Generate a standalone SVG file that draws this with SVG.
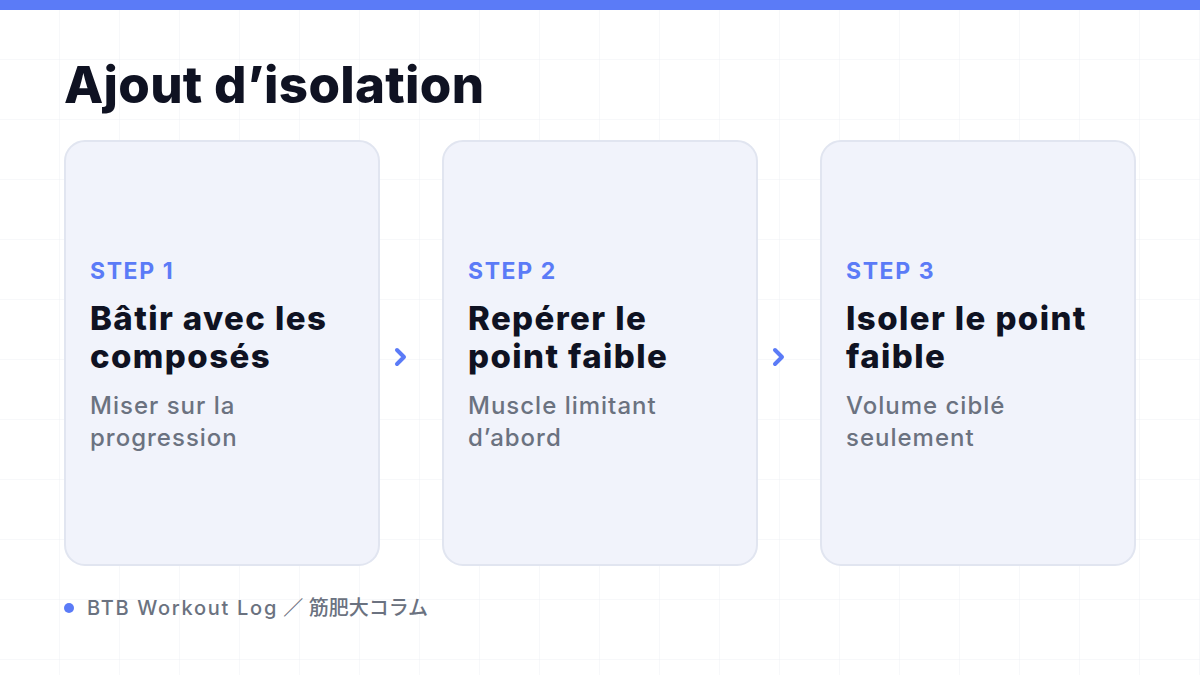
<svg xmlns="http://www.w3.org/2000/svg" width="1200" height="675" viewBox="0 0 1200 675">
<defs>
<pattern id="grid" width="60" height="60" patternUnits="userSpaceOnUse">
<path d="M60 0V60M0 60H60" fill="none" stroke="#EEF0F4" stroke-width="1"/>
</pattern>
</defs>
<style>
text{font-family:Inter,"Liberation Sans","Noto Sans CJK JP",sans-serif}
.card{fill:#F1F3FB;stroke:#E1E5F0;stroke-width:2}
.step{font-weight:700;font-size:23px;fill:#5B7BF7;letter-spacing:1.6px}
.title{font-weight:800;font-size:33px;fill:#0F1222;letter-spacing:1.4px}
.desc{font-weight:500;font-size:24px;fill:#6B7280;letter-spacing:1px}
.chev{fill:none;stroke:#5B7BF7;stroke-width:4;stroke-linecap:round;stroke-linejoin:round}
</style>
<rect width="1200" height="675" fill="#FFFFFF"/>
<rect width="1200" height="675" fill="url(#grid)"/>
<rect width="1200" height="10" fill="#5B7BF7"/>
<text x="64" y="103" font-weight="800" font-size="51" fill="#0F1222" letter-spacing="0.3">Ajout d’isolation</text>
<g id="step1">
<rect class="card" x="65" y="141" width="314" height="424" rx="20"/>
<text class="step" x="90" y="279">STEP 1</text>
<text class="title" x="90" y="330">Bâtir avec les</text>
<text class="title" x="90" y="368">composés</text>
<text class="desc" x="90" y="414">Miser sur la</text>
<text class="desc" x="90" y="446">progression</text>
</g>
<g id="step2">
<rect class="card" x="443" y="141" width="314" height="424" rx="20"/>
<text class="step" x="468" y="279">STEP 2</text>
<text class="title" x="468" y="330">Repérer le</text>
<text class="title" x="468" y="368">point faible</text>
<text class="desc" x="468" y="414">Muscle limitant</text>
<text class="desc" x="468" y="446">d’abord</text>
</g>
<g id="step3">
<rect class="card" x="821" y="141" width="314" height="424" rx="20"/>
<text class="step" x="846" y="279">STEP 3</text>
<text class="title" x="846" y="330">Isoler le point</text>
<text class="title" x="846" y="368">faible</text>
<text class="desc" x="846" y="414">Volume ciblé</text>
<text class="desc" x="846" y="446">seulement</text>
</g>
<g id="connectors">
<path class="chev" d="M397 350L404 357L397 364"/>
<path class="chev" d="M775 350L782 357L775 364"/>
</g>
<g id="footer">
<circle cx="69" cy="608" r="5" fill="#5B7BF7"/>
<text x="87" y="615" font-size="20" font-weight="500" fill="#6B7280"><tspan letter-spacing="1.7">BTB Workout Log</tspan> ／ 筋肥大コラム</text>
</g>
</svg>
